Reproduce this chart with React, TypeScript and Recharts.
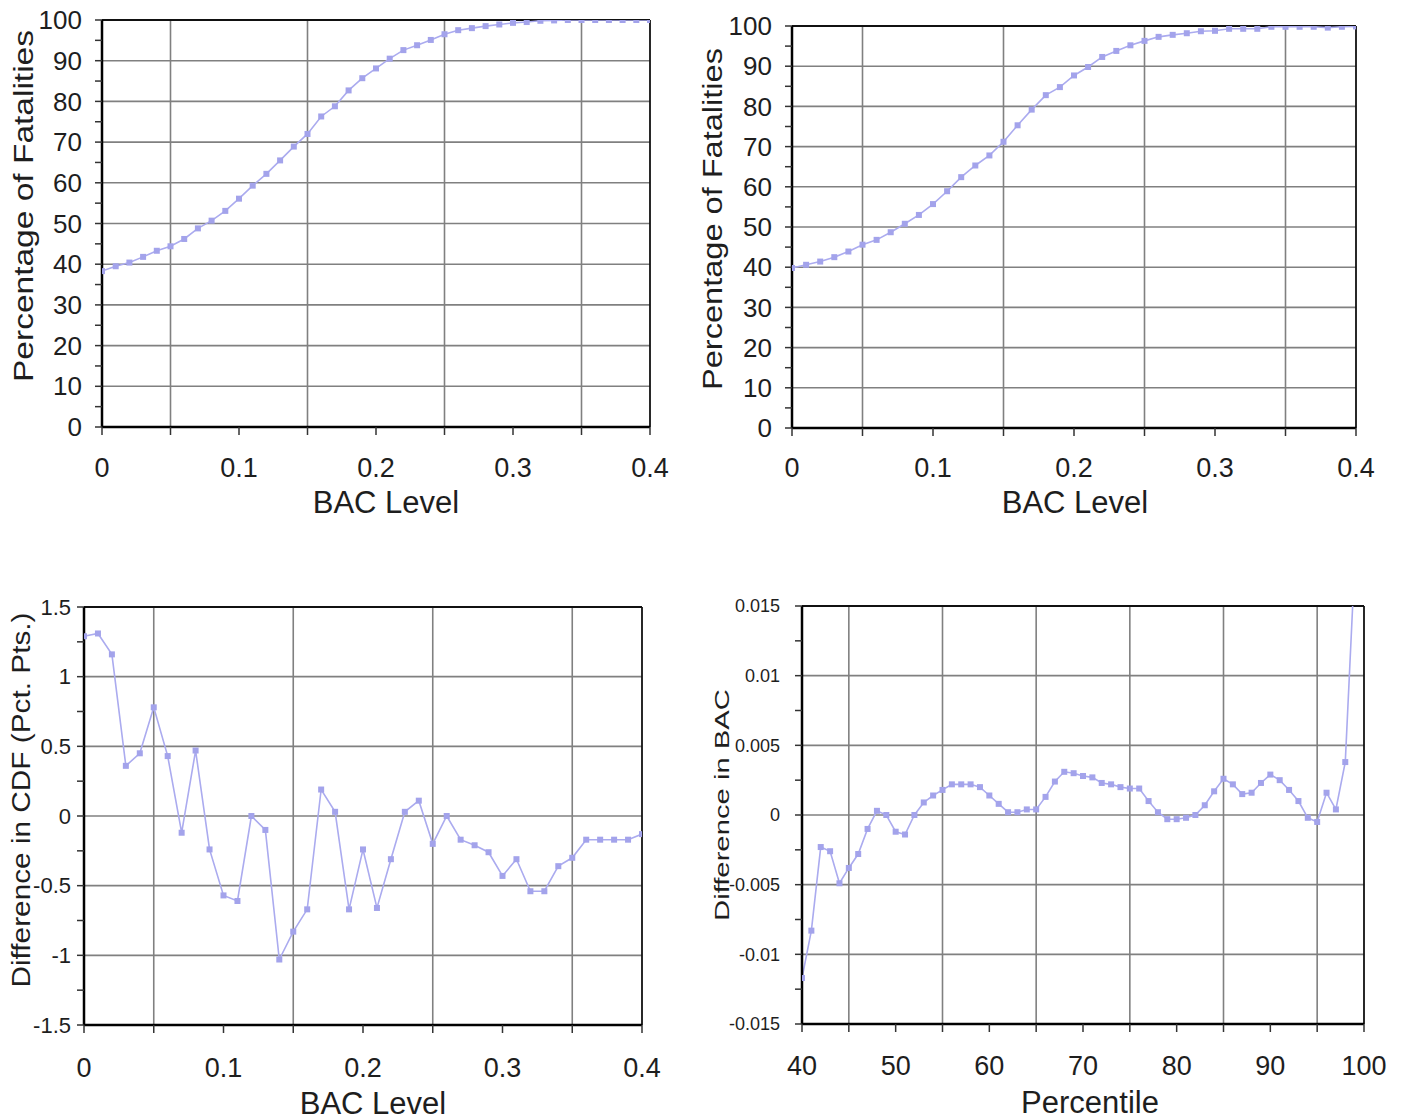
import React from 'react';
import { LineChart, Line, XAxis, YAxis, CartesianGrid, ReferenceLine } from 'recharts';

// ---------- data ----------
const bacLevels = [
  0, 0.01, 0.02, 0.03, 0.04, 0.05, 0.06, 0.07, 0.08, 0.09,
  0.1, 0.11, 0.12, 0.13, 0.14, 0.15, 0.16, 0.17, 0.18, 0.19,
  0.2, 0.21, 0.22, 0.23, 0.24, 0.25, 0.26, 0.27, 0.28, 0.29,
  0.3, 0.31, 0.32, 0.33, 0.34, 0.35, 0.36, 0.37, 0.38, 0.39, 0.4,
];

const fatalPctA = [
  38.3, 39.5, 40.4, 41.8, 43.3, 44.4, 46.2, 48.8, 50.7, 53.1,
  56.1, 59.3, 62.2, 65.5, 68.9, 72.0, 76.3, 78.8, 82.7, 85.7,
  88.1, 90.5, 92.6, 93.8, 95.1, 96.5, 97.5, 98.0, 98.5, 98.9,
  99.3, 99.5, 99.8, 99.9, 100, 100, 100, 100, 100, 100, 100,
];

const fatalPctB = [
  39.8, 40.6, 41.4, 42.5, 43.9, 45.6, 46.8, 48.7, 50.8, 53.0,
  55.7, 58.9, 62.4, 65.3, 67.8, 71.2, 75.3, 79.2, 82.8, 84.8,
  87.7, 89.8, 92.3, 93.8, 95.2, 96.3, 97.3, 97.8, 98.2, 98.7,
  98.8, 99.3, 99.3, 99.3, 99.8, 99.8, 99.8, 99.8, 99.6, 99.8, 99.9,
];

const cdfDiff = [
  1.29, 1.31, 1.16, 0.36, 0.45, 0.78, 0.43, -0.12, 0.47, -0.24,
  -0.57, -0.61, 0.0, -0.10, -1.03, -0.83, -0.67, 0.19, 0.03, -0.67,
  -0.24, -0.66, -0.31, 0.03, 0.11, -0.20, 0.0, -0.17, -0.21, -0.26,
  -0.43, -0.31, -0.54, -0.54, -0.36, -0.30, -0.17, -0.17, -0.17, -0.17, -0.13,
];

const percentiles = [
  40, 41, 42, 43, 44, 45, 46, 47, 48, 49,
  50, 51, 52, 53, 54, 55, 56, 57, 58, 59,
  60, 61, 62, 63, 64, 65, 66, 67, 68, 69,
  70, 71, 72, 73, 74, 75, 76, 77, 78, 79,
  80, 81, 82, 83, 84, 85, 86, 87, 88, 89,
  90, 91, 92, 93, 94, 95, 96, 97, 98, 99,
];

const bacDiff = [
  -0.0117, -0.0083, -0.0023, -0.0026, -0.0049, -0.0038, -0.0028, -0.0010, 0.0003, 0.0000,
  -0.0012, -0.0014, 0.0000, 0.0009, 0.0014, 0.0018, 0.0022, 0.0022, 0.0022, 0.0020,
  0.0014, 0.0008, 0.0002, 0.0002, 0.0004, 0.0004, 0.0013, 0.0024, 0.0031, 0.0030,
  0.0028, 0.0027, 0.0023, 0.0022, 0.0020, 0.0019, 0.0019, 0.0010, 0.0002, -0.0003,
  -0.0003, -0.0002, 0.0000, 0.0007, 0.0017, 0.0026, 0.0022, 0.0015, 0.0016, 0.0023,
  0.0029, 0.0025, 0.0018, 0.0010, -0.0002, -0.0005, 0.0016, 0.0004, 0.0038, 0.018,
];

// ticks and grid values
const bacTicks = [0, 0.05, 0.1, 0.15, 0.2, 0.25, 0.3, 0.35, 0.4];
const bacLabeled = ['0', '0.1', '0.2', '0.3', '0.4'];
const bacGrid = [0.05, 0.15, 0.25, 0.35];

const pctTicks = [0, 5, 10, 15, 20, 25, 30, 35, 40, 45, 50, 55, 60, 65, 70, 75, 80, 85, 90, 95, 100];
const pctGrid = [10, 20, 30, 40, 50, 60, 70, 80, 90];

const cdfTicks = [-1.5, -1.25, -1, -0.75, -0.5, -0.25, 0, 0.25, 0.5, 0.75, 1, 1.25, 1.5];
const cdfLabeled = ['-1.5', '-1', '-0.5', '0', '0.5', '1', '1.5'];
const cdfGrid = [-1, -0.5, 0, 0.5, 1];

const percTicks = [40, 45, 50, 55, 60, 65, 70, 75, 80, 85, 90, 95, 100];
const percGrid = [45, 55, 65, 75, 85, 95];

const bacDiffTicks = [-0.015, -0.0125, -0.01, -0.0075, -0.005, -0.0025, 0, 0.0025, 0.005, 0.0075, 0.01, 0.0125, 0.015];
const bacDiffLabeled = ['-0.015', '-0.01', '-0.005', '0', '0.005', '0.01', '0.015'];
const bacDiffGrid = [-0.01, -0.005, 0, 0.005, 0.01];

const dataA = bacLevels.map((x, i) => ({ bac: x, pct: fatalPctA[i] }));
const dataB = bacLevels.map((x, i) => ({ bac: x, pct: fatalPctB[i] }));
const dataC = bacLevels.map((x, i) => ({ bac: x, diff: cdfDiff[i] }));
const dataD = percentiles.map((x, i) => ({ p: x, diff: bacDiff[i] }));

// ---------- styles ----------
const FONT = '"Liberation Sans", Arial, Helvetica, sans-serif';
const TEXT = '#1e1e1e';
const LINE_COLOR = '#ababef';
const DOT_COLOR = '#a3a3eb';
const GRID = '#808080';

const labelIfListed = (list: string[]) => (v: number) => {
  const s = String(v);
  return list.indexOf(s) >= 0 ? s : '';
};
const labelIfMultiple = (step: number) => (v: number) => {
  const r = v / step;
  return Math.abs(r - Math.round(r)) < 1e-6 ? String(v) : '';
};

const makeXTick = (fontSize: number, fmt: (v: number) => string) => (props: any) => {
  const { x, y, payload } = props;
  const s = fmt(payload.value);
  if (!s) return <g />;
  return (
    <text x={x} y={y} dy="0.35em" textAnchor="middle" fontSize={fontSize} fontFamily={FONT} fill={TEXT}>
      {s}
    </text>
  );
};

const makeYTick = (fontSize: number, fmt: (v: number) => string) => (props: any) => {
  const { x, y, payload } = props;
  const s = fmt(payload.value);
  if (!s) return <g />;
  return (
    <text x={x} y={y} dy="0.35em" textAnchor="end" fontSize={fontSize} fontFamily={FONT} fill={TEXT}>
      {s}
    </text>
  );
};

const squareDot = (props: any) => {
  const { cx, cy, index } = props;
  if (cx == null || cy == null) return <g key={`d${index}`} />;
  return <rect key={`d${index}`} x={cx - 3} y={cy - 3} width={6} height={6} fill={DOT_COLOR} />;
};

type Layout = {
  left: number; top: number; width: number; height: number;
  mt: number; mr: number; yw: number; xh: number;
  yTickFont: number; yTickMargin: number;
  xTickFont: number; xTickMargin: number;
  yTitle: { x: number; y: number; size: number; len: number };
  xTitle: { x: number; y: number; size: number };
};

type PanelProps = {
  layout: Layout;
  data: any[];
  xKey: string; yKey: string;
  xDomain: [number, number]; yDomain: [number, number];
  xTicks: number[]; yTicks: number[];
  xGrid: number[]; yGrid: number[];
  xFmt: (v: number) => string; yFmt: (v: number) => string;
  xTitle: string; yTitle: string;
};

function Panel(p: PanelProps) {
  const L = p.layout;
  const xTitleEl = () => (
    <text x={L.xTitle.x} y={L.xTitle.y} dy="0.35em" textAnchor="middle" fontSize={L.xTitle.size} fontFamily={FONT} fill={TEXT}>
      {p.xTitle}
    </text>
  );
  const yTitleEl = () => (
    <text
      x={L.yTitle.x}
      y={L.yTitle.y}
      dy="0.35em"
      textAnchor="middle"
      transform={`rotate(-90 ${L.yTitle.x} ${L.yTitle.y})`}
      fontSize={L.yTitle.size}
      fontFamily={FONT}
      fill={TEXT}
      textLength={L.yTitle.len}
      lengthAdjust="spacingAndGlyphs"
    >
      {p.yTitle}
    </text>
  );
  return (
    <div style={{ position: 'absolute', left: L.left, top: L.top }}>
      <LineChart width={L.width} height={L.height} data={p.data} margin={{ top: L.mt, right: L.mr, left: 0, bottom: 0 }}>
        <CartesianGrid stroke={GRID} strokeWidth={1.6} horizontalValues={p.yGrid} verticalValues={p.xGrid} />
        <XAxis
          type="number"
          dataKey={p.xKey}
          domain={p.xDomain}
          ticks={p.xTicks}
          interval={0}
          height={L.xh}
          allowDataOverflow
          tickSize={8}
          tickMargin={L.xTickMargin}
          tick={makeXTick(L.xTickFont, p.xFmt)}
          axisLine={{ stroke: '#000', strokeWidth: 2.5 }}
          tickLine={{ stroke: '#333', strokeWidth: 1.5 }}
          label={xTitleEl}
        />
        <YAxis
          type="number"
          domain={p.yDomain}
          ticks={p.yTicks}
          interval={0}
          width={L.yw}
          allowDataOverflow
          tickSize={7}
          tickMargin={L.yTickMargin}
          tick={makeYTick(L.yTickFont, p.yFmt)}
          axisLine={{ stroke: '#000', strokeWidth: 2.5 }}
          tickLine={{ stroke: '#333', strokeWidth: 1.5 }}
          label={yTitleEl}
        />
        <ReferenceLine y={p.yDomain[1]} stroke="#111" strokeWidth={1.8} />
        <ReferenceLine x={p.xDomain[1]} stroke="#111" strokeWidth={1.8} />
        <Line
          type="linear"
          dataKey={p.yKey}
          stroke={LINE_COLOR}
          strokeWidth={1.6}
          dot={squareDot}
          activeDot={false}
          isAnimationActive={false}
        />
      </LineChart>
    </div>
  );
}

const layoutA: Layout = {
  left: 0, top: 0, width: 690, height: 527, mt: 20, mr: 40, yw: 102, xh: 100,
  yTickFont: 26, yTickMargin: 13, xTickFont: 27, xTickMargin: 33,
  yTitle: { x: 24, y: 206, size: 27, len: 352 },
  xTitle: { x: 386, y: 502, size: 31 },
};
const layoutB: Layout = {
  left: 690, top: 0, width: 706, height: 528, mt: 26, mr: 40, yw: 102, xh: 100,
  yTickFont: 26, yTickMargin: 13, xTickFont: 27, xTickMargin: 32,
  yTitle: { x: 23, y: 219, size: 27, len: 342 },
  xTitle: { x: 385, y: 502, size: 31 },
};
const layoutC: Layout = {
  left: 0, top: 590, width: 682, height: 530, mt: 17, mr: 40, yw: 84, xh: 95,
  yTickFont: 22, yTickMargin: 6, xTickFont: 27, xTickMargin: 35,
  yTitle: { x: 21, y: 210, size: 25, len: 375 },
  xTitle: { x: 373, y: 513, size: 31 },
};
const layoutD: Layout = {
  left: 700, top: 590, width: 704, height: 529, mt: 16, mr: 40, yw: 102, xh: 95,
  yTickFont: 18, yTickMargin: 15, xTickFont: 27, xTickMargin: 34,
  yTitle: { x: 22, y: 215, size: 21, len: 232 },
  xTitle: { x: 390, y: 512, size: 31 },
};

export default function App() {
  return (
    <div style={{ position: 'absolute', left: 0, top: 0, width: 1408, height: 1120, background: '#fff', overflow: 'hidden' }}>
      <Panel
        layout={layoutA}
        data={dataA}
        xKey="bac" yKey="pct"
        xDomain={[0, 0.4]} yDomain={[0, 100]}
        xTicks={bacTicks} yTicks={pctTicks}
        xGrid={bacGrid} yGrid={pctGrid}
        xFmt={labelIfListed(bacLabeled)} yFmt={labelIfMultiple(10)}
        xTitle="BAC Level" yTitle="Percentage of Fatalities"
      />
      <Panel
        layout={layoutB}
        data={dataB}
        xKey="bac" yKey="pct"
        xDomain={[0, 0.4]} yDomain={[0, 100]}
        xTicks={bacTicks} yTicks={pctTicks}
        xGrid={bacGrid} yGrid={pctGrid}
        xFmt={labelIfListed(bacLabeled)} yFmt={labelIfMultiple(10)}
        xTitle="BAC Level" yTitle="Percentage of Fatalities"
      />
      <Panel
        layout={layoutC}
        data={dataC}
        xKey="bac" yKey="diff"
        xDomain={[0, 0.4]} yDomain={[-1.5, 1.5]}
        xTicks={bacTicks} yTicks={cdfTicks}
        xGrid={bacGrid} yGrid={cdfGrid}
        xFmt={labelIfListed(bacLabeled)} yFmt={labelIfListed(cdfLabeled)}
        xTitle="BAC Level" yTitle="Difference in CDF (Pct. Pts.)"
      />
      <Panel
        layout={layoutD}
        data={dataD}
        xKey="p" yKey="diff"
        xDomain={[40, 100]} yDomain={[-0.015, 0.015]}
        xTicks={percTicks} yTicks={bacDiffTicks}
        xGrid={percGrid} yGrid={bacDiffGrid}
        xFmt={labelIfMultiple(10)} yFmt={labelIfListed(bacDiffLabeled)}
        xTitle="Percentile" yTitle="Difference in BAC"
      />
    </div>
  );
}
